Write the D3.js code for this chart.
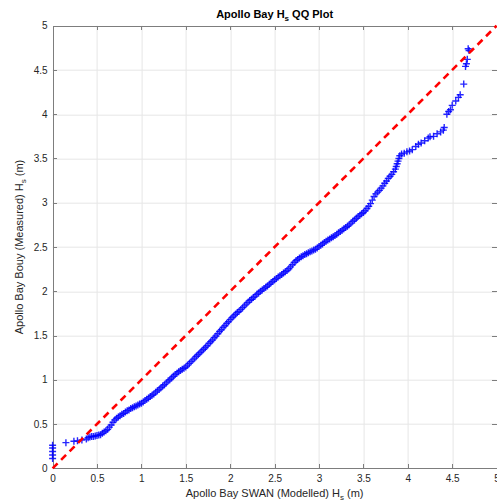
<!DOCTYPE html>
<meta charset="utf-8">
<script src="https://d3js.org/d3.v7.min.js"></script>
<style>
body { margin: 0; background: #fff; }
svg text { font-family: "Liberation Sans", Arial, sans-serif; }
.tick text { fill: #262626; font-size: 10px; }
.ax path, .ax line { stroke: #7d7d7d; shape-rendering: crispEdges; }
</style>
<div id="my_dataviz"></div>
<script>

// tick values (both axes)
var ticks = [0, 0.5, 1, 1.5, 2, 2.5, 3, 3.5, 4, 4.5, 5];

// quantile pairs: modelled (x) vs measured (y)
var modelled = [
  0, 0, 0, 0, 0, 0.15, 0.24, 0.28, 0.33,
  0.38, 0.40, 0.42, 0.44, 0.46, 0.48, 0.50, 0.52, 0.54, 0.56, 0.58, 0.60,
  0.62, 0.64, 0.66, 0.68, 0.70, 0.72, 0.74, 0.76, 0.78, 0.80, 0.82, 0.84,
  0.86, 0.88, 0.90, 0.92, 0.94, 0.96, 0.98, 1.00, 1.02, 1.04, 1.06, 1.08,
  1.10, 1.12, 1.14, 1.16, 1.18, 1.20, 1.22, 1.24, 1.26, 1.28, 1.30, 1.32,
  1.34, 1.36, 1.38, 1.40, 1.42, 1.44, 1.46, 1.48, 1.50, 1.52, 1.54, 1.56,
  1.58, 1.60, 1.62, 1.64, 1.66, 1.68, 1.70, 1.72, 1.74, 1.76, 1.78, 1.80,
  1.82, 1.84, 1.86, 1.88, 1.90, 1.92, 1.94, 1.96, 1.98, 2.00, 2.02, 2.04,
  2.06, 2.08, 2.10, 2.12, 2.14, 2.16, 2.18, 2.20, 2.22, 2.24, 2.26, 2.28,
  2.30, 2.32, 2.34, 2.36, 2.38, 2.40, 2.42, 2.44, 2.46, 2.48, 2.50, 2.52,
  2.54, 2.56, 2.58, 2.60, 2.62, 2.64, 2.66, 2.68, 2.70, 2.72, 2.74, 2.76,
  2.78, 2.80, 2.82, 2.84, 2.86, 2.88, 2.90, 2.92, 2.94, 2.96, 2.98, 3.00,
  3.02, 3.04, 3.06, 3.08, 3.10, 3.12, 3.14, 3.16, 3.18, 3.20, 3.22, 3.24,
  3.26, 3.28, 3.30, 3.32, 3.34, 3.36, 3.38, 3.40, 3.42, 3.44, 3.46, 3.48,
  3.50, 3.52, 3.54, 3.56, 3.58, 3.60, 3.62, 3.64, 3.66, 3.68, 3.70, 3.72,
  3.74, 3.76, 3.78, 3.80, 3.82, 3.84, 3.86, 3.87, 3.88, 3.89, 3.90, 3.91,
  3.93, 3.96, 3.99, 4.02, 4.05, 4.09, 4.12, 4.15, 4.19, 4.23, 4.25, 4.29,
  4.33, 4.37, 4.40, 4.41,
  4.44, 4.46, 4.48, 4.50, 4.54, 4.57, 4.59, 4.63, 4.65, 4.66, 4.67, 4.68, 4.69
];
var measured = [
  0.11, 0.15, 0.19, 0.23, 0.26, 0.29, 0.305, 0.31, 0.32,
  0.33, 0.345, 0.355, 0.36, 0.36, 0.365, 0.37, 0.375, 0.38, 0.395, 0.41, 0.425,
  0.44, 0.465, 0.49, 0.52, 0.545, 0.565, 0.58, 0.595, 0.61, 0.62, 0.635, 0.65,
  0.66, 0.675, 0.685, 0.695, 0.705, 0.715, 0.725, 0.735, 0.75, 0.765, 0.78, 0.795,
  0.81, 0.825, 0.84, 0.86, 0.875, 0.89, 0.91, 0.93, 0.945, 0.965, 0.985, 1.0,
  1.02, 1.04, 1.06, 1.075, 1.09, 1.105, 1.12, 1.13, 1.145, 1.165, 1.185, 1.205,
  1.225, 1.245, 1.265, 1.285, 1.305, 1.325, 1.345, 1.365, 1.385, 1.41, 1.43, 1.45,
  1.475, 1.495, 1.52, 1.545, 1.565, 1.59, 1.61, 1.635, 1.655, 1.68, 1.70, 1.72,
  1.74, 1.76, 1.775, 1.795, 1.815, 1.835, 1.855, 1.875, 1.895, 1.91, 1.93, 1.945,
  1.965, 1.98, 2.0, 2.015, 2.03, 2.045, 2.06, 2.08, 2.095, 2.11, 2.13, 2.145,
  2.16, 2.175, 2.19, 2.205, 2.22, 2.235, 2.255, 2.275, 2.30, 2.325, 2.345, 2.36,
  2.375, 2.39, 2.40, 2.415, 2.425, 2.435, 2.445, 2.455, 2.465, 2.475, 2.49, 2.505,
  2.52, 2.535, 2.55, 2.565, 2.58, 2.59, 2.605, 2.615, 2.63, 2.645, 2.66, 2.675,
  2.69, 2.705, 2.72, 2.735, 2.75, 2.77, 2.79, 2.805, 2.825, 2.845, 2.86, 2.875,
  2.89, 2.91, 2.935, 2.96, 2.99, 3.03, 3.07, 3.10, 3.12, 3.14, 3.165, 3.19,
  3.22, 3.245, 3.275, 3.30, 3.32, 3.35, 3.38, 3.41, 3.44, 3.47, 3.50, 3.53,
  3.55, 3.56, 3.575, 3.585, 3.60, 3.635, 3.66, 3.675, 3.70, 3.73, 3.745, 3.75,
  3.78, 3.80, 3.82, 3.85,
  4.0, 4.03, 4.05, 4.10, 4.15, 4.19, 4.22, 4.34, 4.54, 4.57, 4.62, 4.74, 4.72
];

// reference 1:1 line ends
var refLine = [0, 5];

var W = 497, H = 501;
var margin = {top: 25.7, right: 0.4, bottom: 32.7, left: 52.6},
    width = W - margin.left - margin.right,
    height = H - margin.top - margin.bottom;

var svg = d3.select("#my_dataviz")
  .append("svg")
    .attr("width", W)
    .attr("height", H)
  .append("g")
    .attr("transform", "translate(" + margin.left + "," + margin.top + ")");

var x = d3.scaleLinear().domain([0, 5]).range([0, width]);
var y = d3.scaleLinear().domain([0, 5]).range([height, 0]);

// grid
svg.append("g").selectAll("line.gx")
  .data(ticks.slice(1, -1)).enter().append("line")
    .attr("x1", function(d){ return Math.round(x(d)) + 0.5; })
    .attr("x2", function(d){ return Math.round(x(d)) + 0.5; })
    .attr("y1", 0).attr("y2", height)
    .style("stroke", "#e6e6e6");
svg.append("g").selectAll("line.gy")
  .data(ticks.slice(1, -1)).enter().append("line")
    .attr("y1", function(d){ return Math.round(y(d)) + 0.5; })
    .attr("y2", function(d){ return Math.round(y(d)) + 0.5; })
    .attr("x1", 0).attr("x2", width)
    .style("stroke", "#e6e6e6");

// axes (inward ticks, box on)
svg.append("g").attr("class", "ax")
  .attr("transform", "translate(0," + height + ")")
  .call(d3.axisBottom(x).tickValues(ticks).tickSizeInner(-4.5).tickSizeOuter(0).tickPadding(7).tickFormat(d3.format("")));
svg.append("g").attr("class", "ax")
  .call(d3.axisLeft(y).tickValues(ticks).tickSizeInner(-4.5).tickSizeOuter(0).tickPadding(5).tickFormat(d3.format("")));
svg.append("g").attr("class", "ax")
  .call(d3.axisTop(x).tickValues(ticks).tickSizeInner(-4.5).tickSizeOuter(0).tickFormat(""));
svg.append("g").attr("class", "ax")
  .attr("transform", "translate(" + width + ",0)")
  .call(d3.axisRight(y).tickValues(ticks).tickSizeInner(-4.5).tickSizeOuter(0).tickFormat(""));

// plus markers
var pts = modelled.map(function(d, i){ return [d, measured[i]]; });
var s = 3.5;
svg.append("g").selectAll("path.pt")
  .data(pts).enter().append("path")
    .attr("d", function(d){
      var cx = x(d[0]), cy = y(d[1]);
      return "M" + (cx - s) + "," + cy + "H" + (cx + s) + "M" + cx + "," + (cy - s) + "V" + (cy + s);
    })
    .style("stroke", "#0000ff")
    .style("stroke-width", 1.4)
    .style("stroke-opacity", 0.85)
    .style("fill", "none");

// 1:1 dashed line
svg.append("line")
  .attr("x1", x(refLine[0])).attr("y1", y(refLine[0]))
  .attr("x2", x(refLine[1])).attr("y2", y(refLine[1]))
  .style("stroke", "#ff0000")
  .style("stroke-width", 2.6)
  .style("stroke-dasharray", "7,5");

// title
var title = svg.append("text")
  .attr("x", width / 2).attr("y", -8)
  .attr("text-anchor", "middle")
  .style("font-size", "11px").style("font-weight", "bold").style("fill", "#000");
title.append("tspan").text("Apollo Bay H");
title.append("tspan").attr("dy", 3).style("font-size", "8px").text("s");
title.append("tspan").attr("dy", -3).text(" QQ Plot");

// x label
var xl = svg.append("text")
  .attr("x", width / 2).attr("y", height + 29)
  .attr("text-anchor", "middle")
  .style("font-size", "11px").style("fill", "#262626");
xl.append("tspan").text("Apollo Bay SWAN (Modelled) H");
xl.append("tspan").attr("dy", 3).style("font-size", "8px").text("s");
xl.append("tspan").attr("dy", -3).text(" (m)");

// y label
var yl = svg.append("text")
  .attr("transform", "translate(-30," + (height / 2) + ") rotate(-90)")
  .attr("text-anchor", "middle")
  .style("font-size", "11px").style("fill", "#262626");
yl.append("tspan").text("Apollo Bay Bouy (Measured) H");
yl.append("tspan").attr("dy", 3).style("font-size", "8px").text("s");
yl.append("tspan").attr("dy", -3).text(" (m)");

</script>
